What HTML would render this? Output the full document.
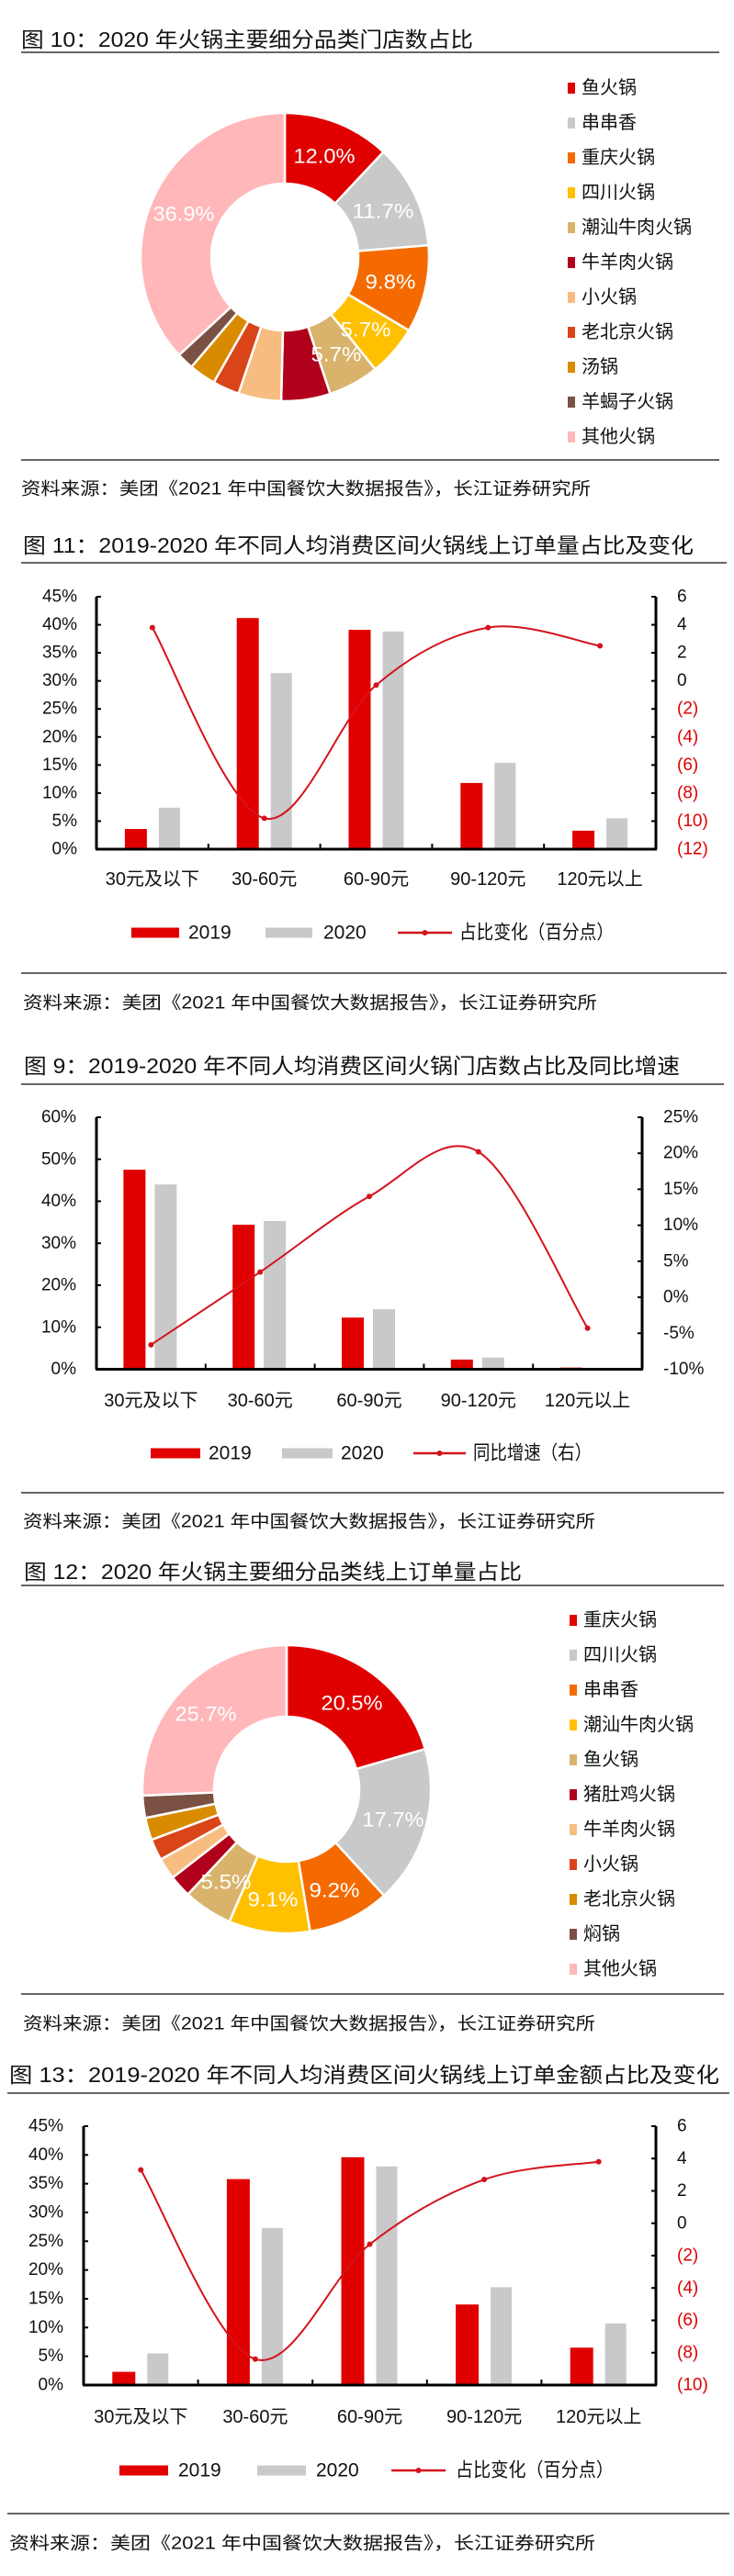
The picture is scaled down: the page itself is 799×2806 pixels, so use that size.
<!DOCTYPE html>
<html><head><meta charset="utf-8">
<style>
html,body{margin:0;padding:0;background:#fff;}
svg{display:block;}
text{font-family:"Liberation Sans","Noto Sans CJK SC",sans-serif;}
</style></head>
<body>
<svg id="s" width="799" height="2806" viewBox="0 0 799 2806" xmlns="http://www.w3.org/2000/svg"></svg>
<script>
var out=[];
function t(x,y,s,o){o=o||{};var a='<text x="'+x+'" y="'+y+'" font-size="'+(o.fs||20)+'" fill="'+(o.fill||'#111')+'" dominant-baseline="central"';
if(o.anchor)a+=' text-anchor="'+o.anchor+'"';if(o.tl)a+=' textLength="'+o.tl+'" lengthAdjust="spacingAndGlyphs"';out.push(a+'>'+s+'</text>');}
function line(x1,y1,x2,y2,c,w){out.push('<line x1="'+x1+'" y1="'+y1+'" x2="'+x2+'" y2="'+y2+'" stroke="'+c+'" stroke-width="'+w+'"/>');}
function rect(x,y,w,h,c){out.push('<rect x="'+x+'" y="'+y+'" width="'+w+'" height="'+h+'" fill="'+c+'"/>');}
var RED='#e00000',GRAY='#c9c9c9',LC='#d4121c';
function header(ty,title,tx0,tx1,ly,lx0,lx1){t(tx0,ty,title,{fs:23,tl:tx1-tx0});line(lx0,ly,lx1,ly,'#333',1.5);}
function source(y,x0,x1,ly,lx0,lx1){line(lx0,ly,lx1,ly,'#333',1.5);t(x0,y,'资料来源：美团《2021 年中国餐饮大数据报告》，长江证券研究所',{fs:19,tl:x1-x0});}
function smooth(p){var d='M'+p[0][0]+','+p[0][1];for(var i=0;i<p.length-1;i++){var p0=p[i-1]||p[i],p1=p[i],p2=p[i+1],p3=p[i+2]||p[i+1];
var c1=[p1[0]+(p2[0]-p0[0])/6,p1[1]+(p2[1]-p0[1])/6],c2=[p2[0]-(p3[0]-p1[0])/6,p2[1]-(p3[1]-p1[1])/6];
d+=' C'+c1[0].toFixed(1)+','+c1[1].toFixed(1)+' '+c2[0].toFixed(1)+','+c2[1].toFixed(1)+' '+p2[0].toFixed(1)+','+p2[1].toFixed(1);}return d;}
function bars(c){
 var gw=(c.axR-c.axL)/5;var lv=function(v){return c.yBot-(v/c.lmax)*(c.yBot-c.yTop);};
 var rv=function(v){return c.yBot-(v-c.rmin)/(c.rmax-c.rmin)*(c.yBot-c.yTop);};
 for(var v=0;v<=c.lmax+0.001;v+=c.lstep){var y=lv(v);t(c.llx,y,v+'%',{anchor:'end',fs:19});line(c.axL,y,c.axL+5,y,'#000',2);}
 for(var v=c.rmin;v<=c.rmax+0.001;v+=c.rstep){var y=rv(v);var s=c.rfmt(v);t(c.rlx,y,s,{fs:19,fill:(v<0&&c.rneg)?'#e00000':'#111'});line(c.axR-5,y,c.axR,y,'#000',2);}
 var cats=['30元及以下','30-60元','60-90元','90-120元','120元以上'];
 var pts=[];
 for(var i=0;i<5;i++){var cx=c.axL+gw*(i+0.5);
  rect(cx+c.ro[0],lv(c.d19[i]),c.ro[1],c.yBot-lv(c.d19[i]),RED);
  rect(cx+c.go[0],lv(c.d20[i]),c.go[1],c.yBot-lv(c.d20[i]),GRAY);
  t(cx,c.xly,cats[i],{anchor:'middle',fs:20});
  pts.push([cx,rv(c.ln[i])]);
  if(i>0)line(c.axL+gw*i,c.yBot,c.axL+gw*i,c.yBot-6,'#000',2);}
 line(c.axL,c.yTop,c.axL,c.yBot,'#000',3);line(c.axR,c.yTop,c.axR,c.yBot,'#000',3);line(c.axL-1,c.yBot,c.axR+1,c.yBot,'#000',3);
 out.push('<path d="'+smooth(pts)+'" fill="none" stroke="'+LC+'" stroke-width="2"/>');
 pts.forEach(function(p){out.push('<circle cx="'+p[0]+'" cy="'+p[1]+'" r="3" fill="'+LC+'"/>');});
 var L=c.leg,y=c.legY;
 rect(L[0],y-5.5,L[1]-L[0],11,RED);t(L[2],y,'2019',{fs:21});
 rect(L[3],y-5.5,L[4]-L[3],11,GRAY);t(L[5],y,'2020',{fs:21});
 line(L[6],y,L[7],y,LC,2.5);out.push('<circle cx="'+((L[6]+L[7])/2)+'" cy="'+y+'" r="3" fill="'+LC+'"/>');
 t(L[8],y,c.legText,{fs:21,tl:L[9]-L[8]});
}
function paren(v){return v<0?'('+(-v)+')':''+v;}
function pct(v){return v+'%';}
function donut(cx,cy,R,r,segs,labels,legend,lx,ly0,step){
 var a=-Math.PI/2;var tot=segs.reduce(function(s,q){return s+q[0];},0);
 segs.forEach(function(s){var b=a+s[0]/tot*2*Math.PI;var lg=(b-a)>Math.PI?1:0;
  var p=function(ang,rr){return (cx+rr*Math.cos(ang)).toFixed(2)+','+(cy+rr*Math.sin(ang)).toFixed(2);};
  out.push('<path d="M'+p(a,R)+' A'+R+','+R+' 0 '+lg+' 1 '+p(b,R)+' L'+p(b,r)+' A'+r+','+r+' 0 '+lg+' 0 '+p(a,r)+' Z" fill="'+s[1]+'" stroke="#fff" stroke-width="2.5"/>');a=b;});
 labels.forEach(function(l){t(l[0],l[1],l[2],{fs:22,fill:'#fff',anchor:'middle',tl:l[3]||62});});
 legend.forEach(function(g,i){var y=ly0+i*step;rect(lx,y-6,8,12,g[1]);t(lx+15,y,g[0],{fs:20});});
}
var C={red:'#e00000',gray:'#c9c9c9',org:'#f46a00',yel:'#ffc000',tan:'#d9b36b',dred:'#b0001c',lorg:'#f7bd80',ored:'#da4419',gold:'#d98b00',brn:'#7b5143',pink:'#ffb7ba'};
/* Chart 10 */
header(43,'图  10：2020 年火锅主要细分品类门店数占比',23,515,57,23,783);
donut(310,280,157,80,[[12,C.red],[11.7,C.gray],[9.8,C.org],[5.7,C.yel],[5.7,C.tan],[5.5,C.dred],[4.8,C.lorg],[3.0,C.ored],[3.0,C.gold],[1.9,C.brn],[36.9,C.pink]],
 [[353,170,'12.0%',67],[417,230,'11.7%',67],[425,307,'9.8%',55],[398,359,'5.7%',55],[366,386,'5.7%',55],[200,233,'36.9%',67]],
 [['鱼火锅',C.red],['串串香',C.gray],['重庆火锅',C.org],['四川火锅',C.yel],['潮汕牛肉火锅',C.tan],['牛羊肉火锅',C.dred],['小火锅',C.lorg],['老北京火锅',C.ored],['汤锅',C.gold],['羊蝎子火锅',C.brn],['其他火锅',C.pink]],618,96,38);
source(533,23,643,501,23,783);
/* Chart 11 */
header(594,'图  11：2019-2020 年不同人均消费区间火锅线上订单量占比及变化',25,755,613,23,791);
bars({axL:105,axR:714,yTop:650,yBot:925,lmax:45,lstep:5,rmin:-12,rmax:6,rstep:2,rfmt:paren,rneg:1,llx:84,rlx:737,
 d19:[3.6,41.2,39.1,11.8,3.3],d20:[7.4,31.4,38.8,15.4,5.5],ln:[3.8,-9.8,-0.3,3.8,2.5],ro:[-30,24],go:[7,23],xly:958,
 legY:1016,leg:[143,195,205,289,340,352,433,492,500,668],legText:'占比变化（百分点）'});
source(1093,25,650,1060,23,791);
/* Chart 9 */
header(1161,'图  9：2019-2020 年不同人均消费区间火锅门店数占比及同比增速',26,740,1181,23,788);
bars({axL:105,axR:699,yTop:1217,yBot:1491.5,lmax:60,lstep:10,rmin:-10,rmax:25,rstep:5,rfmt:pct,rneg:0,llx:83,rlx:722,
 d19:[47.5,34.4,12.3,2.3,0.4],d20:[44,35.3,14.3,2.8,0.3],ln:[-6.6,3.5,14,20.2,-4.3],ro:[-30,24],go:[4,24],xly:1526,
 legY:1583,leg:[164,218,227,307,362,371,450,507,515,644],legText:'同比增速（右）'});
source(1658,25,648,1626,23,788);
/* Chart 12 */
header(1712,'图  12：2020 年火锅主要细分品类线上订单量占比',26,568,1727,23,788);
donut(312,1949,157,79,[[20.5,C.red],[17.7,C.gray],[9.2,C.org],[9.1,C.yel],[5.5,C.tan],[2.5,C.dred],[2.4,C.lorg],[2.4,C.ored],[2.5,C.gold],[2.5,C.brn],[25.7,C.pink]],
 [[383,1855,'20.5%',67],[428,1982,'17.7%',67],[364,2059,'9.2%',55],[297,2069,'9.1%',55],[246,2050,'5.5%',55],[224,1867,'25.7%',67]],
 [['重庆火锅',C.red],['四川火锅',C.gray],['串串香',C.org],['潮汕牛肉火锅',C.yel],['鱼火锅',C.tan],['猪肚鸡火锅',C.dred],['牛羊肉火锅',C.lorg],['小火锅',C.ored],['老北京火锅',C.gold],['焖锅',C.brn],['其他火锅',C.pink]],620,1765,38);
source(2205,25,648,2172,23,788);
/* Chart 13 */
header(2260,'图  13：2019-2020 年不同人均消费区间火锅线上订单金额占比及变化',10,783,2280,8,794);
bars({axL:91,axR:714,yTop:2316,yBot:2598,lmax:45,lstep:5,rmin:-10,rmax:6,rstep:2,rfmt:paren,rneg:1,llx:69,rlx:737,
 d19:[2.3,35.8,39.6,14,6.5],d20:[5.5,27.3,38,17,10.7],ln:[3.3,-8.4,-1.3,2.7,3.8],ro:[-31,25],go:[7,23],xly:2633,
 legY:2691,leg:[130,183,194,280,333,344,426,485,496,668],legText:'占比变化（百分点）'});
source(2771,10,648,2738,8,794);
document.getElementById('s').innerHTML=out.join('');
</script>
</body></html>
